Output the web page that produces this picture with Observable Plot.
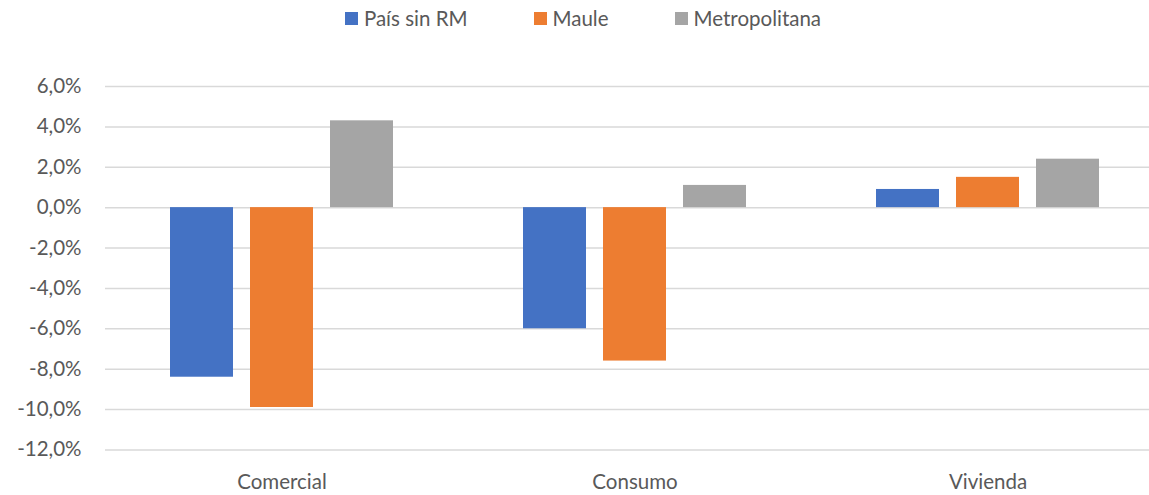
<!DOCTYPE html>
<html>
<head>
<meta charset="utf-8">
<script src="https://cdn.jsdelivr.net/npm/d3@7"></script>
<script src="https://cdn.jsdelivr.net/npm/@observablehq/plot@0.6"></script>
<style>
  body { margin: 0; background: #fff; font-family: Lato, "Noto Sans", sans-serif; color: #595959; overflow: hidden; }
  #legend { width: 1149px; height: 36px; display: flex; justify-content: center; align-items: center; font-size: 20.5px; padding-left: 17px; box-sizing: border-box; }
  .item { display: flex; align-items: center; margin: 0 33px; }
  .sw { width: 13px; height: 13px; margin-right: 6px; }
  #chart { width: 1149px; height: 459px; overflow: hidden; }
  #chart svg { max-width: none !important; width: 1165px; height: 459px; }
</style>
</head>
<body>
<div id="legend"></div>
<div id="chart"></div>
<script>
const categories = ["Comercial", "Consumo", "Vivienda"];
const series = ["País sin RM", "Maule", "Metropolitana"];
const paisSinRM = [-8.4, -6.0, 0.9];
const maule = [-9.9, -7.6, 1.5];
const metropolitana = [4.3, 1.1, 2.4];
const colors = ["#4472C4", "#ED7D31", "#A5A5A5"];
const yTicks = [-12, -10, -8, -6, -4, -2, 0, 2, 4, 6];

const seriesValues = [paisSinRM, maule, metropolitana];
const data = categories.flatMap((c, i) => series.map((s, j) => ({category: c, series: s, value: seriesValues[j][i]})));

const legend = document.getElementById("legend");
series.forEach((s, j) => {
  const it = document.createElement("div");
  it.className = "item";
  it.innerHTML = `<div class="sw" style="background:${colors[j]}"></div><span>${s}</span>`;
  legend.appendChild(it);
});

const chart = Plot.plot({
  width: 1165,
  height: 459,
  marginTop: 50,
  marginBottom: 45.6,
  marginLeft: 104,
  marginRight: 0,
  style: {fontFamily: "Lato, 'Noto Sans', sans-serif", fontSize: "20.5px", color: "#595959", background: "#fff", maxWidth: "none"},
  fx: {domain: categories, padding: 0, label: null, axis: "bottom", tickSize: 0, tickPadding: 24.5},
  x: {domain: series, paddingInner: 0.215, paddingOuter: 0.81, axis: null},
  y: {domain: [-12, 6], ticks: yTicks, tickFormat: d => d.toFixed(1).replace(".", ",") + "%", label: null, tickSize: 0, tickPadding: 24},
  color: {domain: series, range: colors},
  marks: [
    Plot.gridY(yTicks, {stroke: "#D9D9D9", strokeOpacity: 1, strokeWidth: 1.5}),
    Plot.barY(data, {fx: "category", x: "series", y: "value", fill: "series"})
  ]
});
document.getElementById("chart").appendChild(chart);
</script>
</body>
</html>
